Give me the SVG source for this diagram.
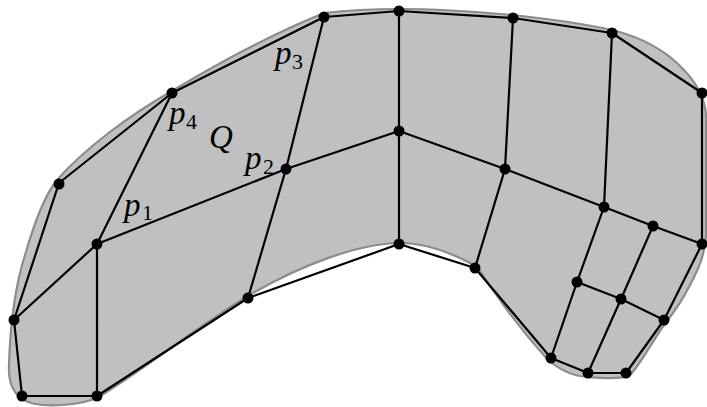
<svg xmlns="http://www.w3.org/2000/svg" width="707" height="407" viewBox="0 0 707 407">
<style>
.blob{fill:#c0c0c0;stroke:#8c8c8c;stroke-width:2.2}
.e{stroke:#000;stroke-width:2.2;fill:none;stroke-linecap:round;stroke-linejoin:round}
.n{fill:#000}
.lbl{font-family:"Liberation Serif","DejaVu Serif",serif;font-style:italic;font-size:33px;fill:#000}
.sub{font-family:"Liberation Serif","DejaVu Serif",serif;font-style:normal;font-size:22px;fill:#000}
</style>
<path class="blob" d="M324,13 C350,10 375,9 400,9 C440,9 480,12 513,15 C550,19 585,24 612,30 C640,37 665,50 682,68 C697,83 706,100 706,118 L706,235 C705,255 698,270 690,285 C680,305 672,315 664,325 C650,345 640,365 630,375 C622,380 600,378 588,377 C570,376 558,368 548,360 C530,340 510,315 495,293 C485,280 480,268 474,265 C450,252 425,243 400,243 C360,243 300,265 248,296 C200,325 140,372 97,398 C80,405 50,407 35,404 C15,400 8,385 9,365 C10,330 14,290 25,255 C35,220 45,195 57,180 C85,148 130,115 172,91 C220,62 270,35 324,13 Z"/>
<g id="connectors">
<path class="e" d="M22,396 L14,320 L59,183 L172,93 L324,17 L399,11 L513,18 L612,33 L702,93 L702,244 L664,320 L626,373 L588,373 L551,358 L475,268 L399,244 L248,298 L97,396 Z"/>
<path class="e" d="M14,320 L97,244 L97,396"/>
<path class="e" d="M97,244 L172,93"/>
<path class="e" d="M97,244 L286,169 L399,131 L505,169 L604,207 L653,226 L702,244"/>
<path class="e" d="M324,17 L286,169 L248,298"/>
<path class="e" d="M399,11 L399,244"/>
<path class="e" d="M513,18 L505,169 L475,268"/>
<path class="e" d="M612,33 L604,207 L577,282 L551,358"/>
<path class="e" d="M577,282 L621,299 L664,320"/>
<path class="e" d="M653,226 L621,299 L588,373"/>
</g>
<g id="nodes">
<circle id="nA" class="n" cx="22" cy="396" r="5.5"/>
<circle id="nB" class="n" cx="97" cy="396" r="5.5"/>
<circle id="nC" class="n" cx="14" cy="320" r="5.5"/>
<circle id="nD" class="n" cx="97" cy="244" r="5.5"/>
<circle id="nE" class="n" cx="59" cy="184" r="5.5"/>
<circle id="nF" class="n" cx="172" cy="93" r="5.5"/>
<circle id="nG" class="n" cx="324" cy="17" r="5.5"/>
<circle id="nH" class="n" cx="399" cy="11" r="5.5"/>
<circle id="nI" class="n" cx="513" cy="18" r="5.5"/>
<circle id="nJ" class="n" cx="612" cy="33" r="5.5"/>
<circle id="nK" class="n" cx="702" cy="93" r="5.5"/>
<circle id="nL" class="n" cx="286" cy="169" r="5.5"/>
<circle id="nM" class="n" cx="399" cy="131" r="5.5"/>
<circle id="nN" class="n" cx="505" cy="169" r="5.5"/>
<circle id="nO" class="n" cx="604" cy="207" r="5.5"/>
<circle id="nP" class="n" cx="653" cy="226" r="5.5"/>
<circle id="nQ" class="n" cx="702" cy="244" r="5.5"/>
<circle id="nR" class="n" cx="248" cy="298" r="5.5"/>
<circle id="nS" class="n" cx="399" cy="244" r="5.5"/>
<circle id="nT" class="n" cx="475" cy="268" r="5.5"/>
<circle id="nU" class="n" cx="577" cy="282" r="5.5"/>
<circle id="nV" class="n" cx="621" cy="299" r="5.5"/>
<circle id="nW" class="n" cx="664" cy="320" r="5.5"/>
<circle id="nX" class="n" cx="551" cy="358" r="5.5"/>
<circle id="nY" class="n" cx="588" cy="373" r="5.5"/>
<circle id="nZ" class="n" cx="626" cy="373" r="5.5"/>
</g>
<g id="labels">
<text class="lbl" x="275" y="64">p<tspan class="sub" x="292" y="69">3</tspan></text>
<text class="lbl" x="169" y="124">p<tspan class="sub" x="186" y="129">4</tspan></text>
<text class="lbl" x="209" y="148">Q</text>
<text class="lbl" x="245" y="169">p<tspan class="sub" x="263" y="174">2</tspan></text>
<text class="lbl" x="124" y="216">p<tspan class="sub" x="142" y="220">1</tspan></text>
</g>
</svg>
